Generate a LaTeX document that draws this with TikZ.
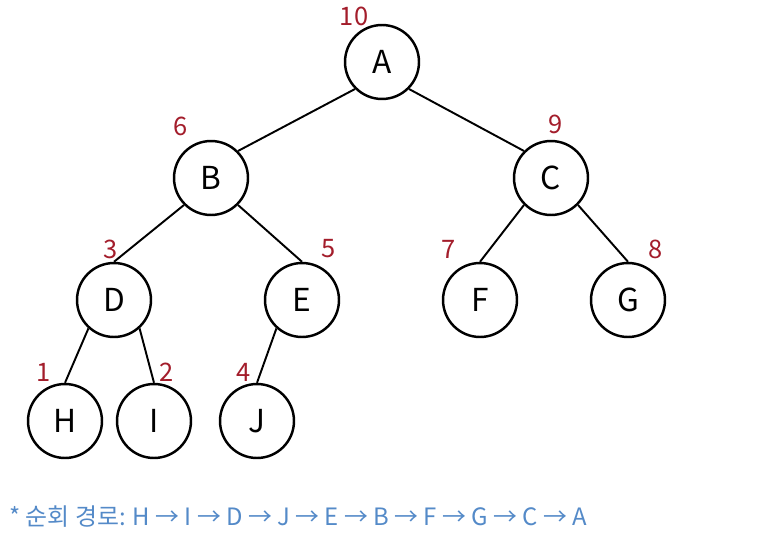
\documentclass[tikz,border=0pt]{standalone}
\usepackage{fontspec}
\setmainfont{Noto Sans CJK KR}
\usepackage{xcolor}
\usetikzlibrary{arrows.meta, positioning}
\definecolor{nomormerah}{RGB}{163, 29, 43}
\definecolor{jalurbiru}{RGB}{84, 138, 200}

\begin{document}
\begin{tikzpicture}[
    x=0.02cm, y=-0.02cm,
    simpul/.style={draw, circle, line width=1.4pt, minimum size=1.48cm,
                   inner sep=0pt, font=\fontsize{18}{20}\selectfont},
    nomor/.style={text=nomormerah, font=\fontsize{14.5}{16}\selectfont, inner sep=0pt},
    garis/.style={line width=1.1pt}
  ]
    \useasboundingbox (0,0) rectangle (777,537);

    \node[simpul] (A) at (382,62) {A};
    \node[simpul] (B) at (211,178) {B};
    \node[simpul] (C) at (551,178) {C};
    \node[simpul] (D) at (114,300) {D};
    \node[simpul] (E) at (302,300) {E};
    \node[simpul] (F) at (480,300) {F};
    \node[simpul] (G) at (628,300) {G};
    \node[simpul] (H) at (65,421) {H};
    \node[simpul] (I) at (154,421) {I};
    \node[simpul] (J) at (257,421) {J};

    \draw[garis] (A.225) -- (B.45);
    \draw[garis] (A.315) -- (C.135);
    \draw[garis] (B.225) -- (D.north);
    \draw[garis] (B.315) -- (E.north);
    \draw[garis] (C.225) -- (F.north);
    \draw[garis] (C.315) -- (G.north);
    \draw[garis] (D.228) -- (H.north);
    \draw[garis] (D.312) -- (I.north);
    \draw[garis] (E.228) -- (J.north);

    % urutan kunjungan
    \node[nomor] (nA) at (354,16) {10};
    \node[nomor] (nB) at (181,126) {6};
    \node[nomor] (nC) at (556,124) {9};
    \node[nomor] (nD) at (111,249) {3};
    \node[nomor] (nE) at (329,249) {5};
    \node[nomor] (nF) at (449,249) {7};
    \node[nomor] (nG) at (656,249) {8};
    \node[nomor] (nH) at (44,372) {1};
    \node[nomor] (nI) at (167,372) {2};
    \node[nomor] (nJ) at (244,372) {4};

    \node[text=jalurbiru, font=\fontsize{13.6}{15}\selectfont, anchor=west, inner sep=0pt]
      (jalur) at (9,517) {* 순회 경로: H → I → D → J → E → B → F → G → C → A};
  \end{tikzpicture}
\end{document}
